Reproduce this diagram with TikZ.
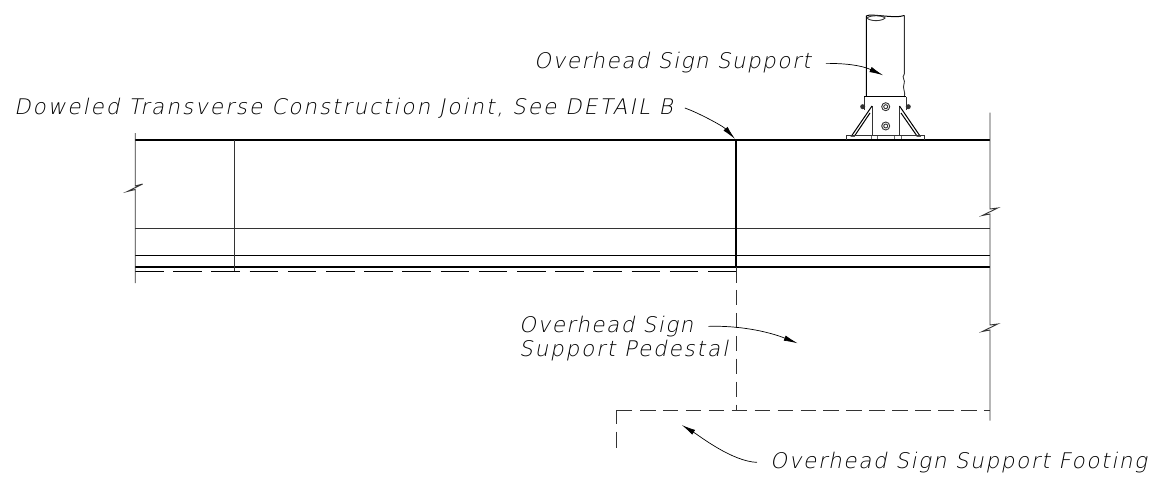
\documentclass[tikz,border=0pt]{standalone}
\usepackage{fontspec}
\usetikzlibrary{arrows.meta}
\newfontfamily\cadfont[LetterSpace=8,FakeSlant=0.2]{DejaVu Sans ExtraLight}
\tikzset{
 heavy/.style={line width=1.9pt},
 medium/.style={line width=1pt},
 thin line/.style={line width=0.9pt,black!80},
 hidden/.style={line width=0.9pt,black!80,dash pattern=on 15.5pt off 7.43pt},
 leader/.style={line width=0.7pt,-{Latex[length=14pt,width=5.5pt]}},
 caption/.style={inner sep=0pt,anchor=base west,font=\cadfont\fontsize{21.5}{25}\selectfont},
}
\begin{document}
\begin{tikzpicture}[x=1pt,y=-1pt]
 \useasboundingbox (0,0) rectangle (1160,487);
 % slab
 \draw[heavy](135,140)--(990,140);
 \draw[thin line](135,228)--(990,228);
 \draw[medium](135,255.7)--(990,255.7);
 \draw[heavy](135,267.3)--(990,267.3);
 \draw[thin line](234.8,140)--(234.8,271);
 \draw[heavy](736.3,140)--(736.3,267.3);
 \draw[medium,dash pattern=on 28.6pt off 9.6pt](135,271.4)--(736.3,271.4);
 % break lines
 \draw[thin line](135.2,133)--(135.2,186)--(142.7,184)--(127.3,191.5)--(135.2,189.5)--(135.2,283);
 \draw[thin line](990,112.7)--(990,209)--(997.7,208)--(982.3,215.5)--(990,214)--(990,325)--(997.7,324)--(982.3,331.5)--(990,330)--(990,420.7);
 % pedestal and footing
 \draw[hidden](736.3,267)--(736.3,410);
 \draw[hidden](640,410)--(990,410);
 \draw[hidden,dash pattern=on 29pt off 8pt on 16pt off 8pt](632,410)--(616.7,410)--(616.7,448);
 % sign support
 \draw[medium](866.3,97)--(866.3,16) .. controls (870,13) and (895,19) .. (904.3,15.5);
 \draw[thin line](867,18) .. controls (870,15) and (882,15) .. (885,18) .. controls (882,21.5) and (870,21.5) .. (867,18);
 \draw[thin line](904.3,15.5)--(904.3,74) .. controls (901,78) and (906,80) .. (904,84) .. controls (902,88) and (906,92) .. (904.3,97);
 \draw[medium](864.3,97)--(906,97);
 \draw[thin line](864.3,97)--(864.3,110);
 \draw[thin line](906,97)--(906,110);
 \draw[thin line](872.3,106)--(872.3,136);
 \draw[thin line](899,106)--(899,136);
 \draw[medium](872,106)--(851.5,136)--(854.5,136)--(870,113);
 \draw[medium](899.5,106)--(920,136)--(917,136)--(901,113);
 \foreach \by in {106.7,126}{
  \draw[thin line](885.7,\by) circle (4);
  \draw[thin line](885.7,\by) circle (2);
 }
 \fill[black!80](862.7,106.7) circle (2.5);
 \fill[black!80](908.3,106.7) circle (2.5);
 \draw[thin line](846.7,140)--(846.7,135.7)--(924.3,135.7)--(924.3,140);
 \foreach \tx in {870.7,877.3,894,900.7}{
  \draw[line width=0.4pt,black!60](\tx,135.7)--(\tx,138.5);
 }
 % labels
 \node[caption] (supportlabel) at (534,68.3) {\addfontfeature{LetterSpace=6.9}Overhead Sign Support};
 \node[caption] (jointlabel) at (14,114.3) {\addfontfeature{LetterSpace=9.3}Doweled Transverse Construction Joint, See DETAIL B};
 \node[caption] (pedestallabel) at (519,332.3) {\addfontfeature{LetterSpace=6.8}Overhead Sign};
 \node[caption] (pedestallabelb) at (519,356.7) {\addfontfeature{LetterSpace=8.6}Support Pedestal};
 \node[caption] (footinglabel) at (770,468.3) {\addfontfeature{LetterSpace=7.7}Overhead Sign Support Footing};
 % leaders
 \coordinate (supporttip) at (883.3,75.3);
 \coordinate (jointtip) at (735,139);
 \coordinate (pedestaltip) at (797.7,343.3);
 \coordinate (footingtip) at (681.7,425);
 \draw[leader]([xshift=15pt,yshift=-1pt]supportlabel.east) .. controls +(20,0) and +(-22,-10) .. (supporttip);
 \draw[leader]([xshift=12pt,yshift=0pt]jointlabel.east) .. controls +(12,4) and +(-12,-13) .. (jointtip);
 \draw[leader]([xshift=15pt,yshift=0pt]pedestallabel.east) .. controls +(30,-1) and +(-30,-12) .. (pedestaltip);
 \draw[leader]([xshift=-13pt,yshift=0pt]footinglabel.west) .. controls +(-25,-1) and +(18,11) .. (footingtip);
\end{tikzpicture}
\end{document}
